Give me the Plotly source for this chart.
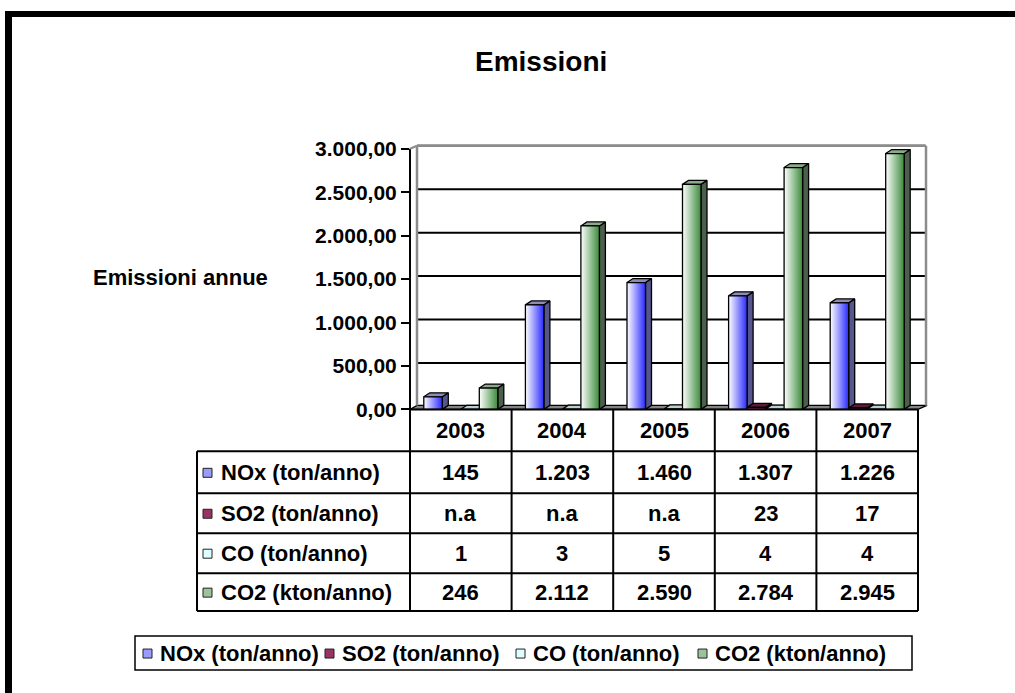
import plotly.graph_objects as go

# ---- data -------------------------------------------------------------
years = ["2003", "2004", "2005", "2006", "2007"]
series_names = ["NOx (ton/anno)", "SO2 (ton/anno)", "CO (ton/anno)", "CO2 (kton/anno)"]
nox = [145, 1203, 1460, 1307, 1226]
so2 = [None, None, None, 23, 17]          # None = n.a
co = [1, 3, 5, 4, 4]
co2 = [246, 2112, 2590, 2784, 2945]
y_ticks = [0, 500, 1000, 1500, 2000, 2500, 3000]
series_values = [nox, so2, co, co2]

# ---- styling ----------------------------------------------------------
FONT = "Liberation Sans, Arial, sans-serif"
styles = [
    dict(grad=["#ffffff", "#2a2aff"], side="#56568c", top="#8c8cb4", key="#9a9aff"),
    dict(grad=["#b04a7a", "#7a1e4e"], side="#4a1230", top="#5e1a3c", key="#993366"),
    dict(grad=["#f4ffff", "#c4ecec"], side="#8aa8a8", top="#b8d0d0", key="#ddffff"),
    dict(grad=["#ffffff", "#3a8a3a"], side="#4c5e4c", top="#8ea88e", key="#9cc49c"),
]

W, H = 1015, 693
H_MAP = 682                              # vertical extent used for the layout grid
X0, CAT, XR = 410, 101.6, 930          # axis start, category width, plot right (px)
Y0, Y3000, YT = 409, 148, 138           # value 0, value 3000, plot top (px)
UPP = 3000 / (Y0 - Y3000)               # data units per pixel

def pxx(x):
    return x / W

def pxy(y):
    return 1 - y / H_MAP

def cat_px(c):
    return X0 + (c + 0.5) * CAT

BAR_W = 18.5 / CAT
DX = 6 / CAT
DY = 4 * UPP

fig = go.Figure()

# ---- 3D style bars ----------------------------------------------------
for i in range(len(years)):
    for j, vals in enumerate(series_values):
        v = vals[i]
        if v is None:
            continue
        st = styles[j]
        xl = i - 2 * BAR_W + j * BAR_W
        xr = xl + BAR_W
        line = dict(color="black", width=1.3)
        # side face
        fig.add_trace(go.Scatter(
            x=[xr, xr + DX, xr + DX, xr, xr], y=[0, DY, v + DY, v, 0],
            fill="toself", fillcolor=st["side"], mode="lines", line=line,
            hoverinfo="skip", showlegend=False))
        # top face
        fig.add_trace(go.Scatter(
            x=[xl, xl + DX, xr + DX, xr, xl], y=[v, v + DY, v + DY, v, v],
            fill="toself", fillcolor=st["top"], mode="lines", line=line,
            hoverinfo="skip", showlegend=False))
        # front face with horizontal shading
        fig.add_trace(go.Scatter(
            x=[xl, xr, xr, xl, xl], y=[0, 0, v, v, 0],
            fill="toself", mode="lines", line=line,
            fillgradient=dict(type="horizontal",
                              colorscale=[[0, st["grad"][0]], [1, st["grad"][1]]]),
            hoverinfo="skip", showlegend=False,
            name=f"{series_names[j]} {years[i]}"))

shapes = []
ann = []

def text(x, y, s, size, xanchor="center", xref="paper"):
    ann.append(dict(x=x, xref=xref, y=pxy(y), yref="paper", text=s, showarrow=False,
                    xanchor=xanchor, yanchor="middle",
                    font=dict(family=FONT, size=size, color="black", weight="bold")))

# ---- walls, floor, gridlines -------------------------------------------
BK = 7  # back wall offset (px)
XE = cat_px(4.5)
shapes.append(dict(type="path", xref="paper", yref="paper",
                   path=f"M {pxx(X0)},{pxy(Y0)} L {pxx(XE)},{pxy(Y0)} "
                        f"L {pxx(XE + 9)},{pxy(Y0 - 4)} L {pxx(X0 + BK)},{pxy(Y0 - 4)} Z",
                   fillcolor="#858585", line=dict(color="black", width=1.2), layer="below"))
for t in y_ticks[1:]:
    shapes.append(dict(type="line", xref="paper", yref="y",
                       x0=pxx(X0 + BK), x1=pxx(XE + 7), y0=t + 3 * UPP, y1=t + 3 * UPP,
                       line=dict(color="black", width=2), layer="below"))
wall_top = pxy(Y3000 - 3)
shapes += [
    dict(type="line", xref="paper", yref="paper", x0=pxx(X0 + BK), x1=pxx(X0 + BK),
         y0=pxy(Y0 - 4), y1=wall_top, line=dict(color="#8c8c8c", width=2.5), layer="below"),
    dict(type="line", xref="paper", yref="paper", x0=pxx(X0 + BK), x1=pxx(XE + 8),
         y0=wall_top, y1=wall_top, line=dict(color="#8c8c8c", width=2.5), layer="below"),
    dict(type="line", xref="paper", yref="paper", x0=pxx(XE + 8), x1=pxx(XE + 8),
         y0=wall_top, y1=pxy(Y0 - 4), line=dict(color="#8c8c8c", width=2.5), layer="below"),
    # front value axis
    dict(type="line", xref="paper", yref="paper", x0=pxx(X0), x1=pxx(X0),
         y0=pxy(Y0), y1=pxy(Y3000), line=dict(color="black", width=2)),
    dict(type="line", xref="paper", yref="paper", x0=pxx(X0), x1=pxx(X0 + BK),
         y0=pxy(Y3000), y1=wall_top, line=dict(color="#8c8c8c", width=2)),
]

# ---- data table --------------------------------------------------------
row_edges = [409, 451, 493, 533, 573, 611]
LBL_X = 197
tl = dict(color="black", width=2)
for ry in row_edges[1:]:
    shapes.append(dict(type="line", xref="paper", yref="paper",
                       x0=pxx(LBL_X), x1=pxx(XE), y0=pxy(ry), y1=pxy(ry), line=tl))
shapes.append(dict(type="line", xref="paper", yref="paper",
                   x0=pxx(X0), x1=pxx(XE), y0=pxy(row_edges[0]), y1=pxy(row_edges[0]), line=tl))
shapes.append(dict(type="line", xref="paper", yref="paper",
                   x0=pxx(LBL_X), x1=pxx(LBL_X), y0=pxy(row_edges[1]), y1=pxy(row_edges[-1]), line=tl))
for c in range(len(years) + 1):
    xc = cat_px(c - 0.5)
    shapes.append(dict(type="line", xref="paper", yref="paper",
                       x0=pxx(xc), x1=pxx(xc), y0=pxy(row_edges[0]), y1=pxy(row_edges[-1]), line=tl))

def fmt(v):
    return "n.a" if v is None else f"{v:,}".replace(",", ".")

for i, yr in enumerate(years):
    text(i, (row_edges[0] + row_edges[1]) / 2, yr, 22, xref="x")
for j, vals in enumerate(series_values):
    yc = (row_edges[j + 1] + row_edges[j + 2]) / 2
    for i, v in enumerate(vals):
        text(i, yc, fmt(v), 22, xref="x")
    # row label with colour key
    shapes.append(dict(type="rect", xref="paper", yref="paper",
                       x0=pxx(203), x1=pxx(212), y0=pxy(yc + 5), y1=pxy(yc - 4),
                       fillcolor=styles[j]["key"], line=dict(color="#222", width=1)))
    text(pxx(219), yc, series_names[j], 22, xanchor="left")

# ---- legend box --------------------------------------------------------
shapes.append(dict(type="rect", xref="paper", yref="paper",
                   x0=pxx(135), x1=pxx(912), y0=pxy(670), y1=pxy(636),
                   line=dict(color="black", width=1.5), fillcolor="white"))
leg_keys = [143, 325, 516, 698]
for j, kx in enumerate(leg_keys):
    shapes.append(dict(type="rect", xref="paper", yref="paper",
                       x0=pxx(kx), x1=pxx(kx + 9), y0=pxy(658), y1=pxy(649),
                       fillcolor=styles[j]["key"], line=dict(color="#222", width=1)))
    text(pxx(kx + 15), 653, series_names[j], 22, xanchor="left")

# ---- outer frame -------------------------------------------------------
shapes += [
    dict(type="rect", xref="paper", yref="paper", x0=pxx(5), x1=pxx(W + 5),
         y0=pxy(16), y1=pxy(10), fillcolor="black", line=dict(width=0)),
    dict(type="rect", xref="paper", yref="paper", x0=pxx(5), x1=pxx(12),
         y0=pxy(H + 10), y1=pxy(10), fillcolor="black", line=dict(width=0)),
]

# ---- titles ------------------------------------------------------------
text(pxx(541), 61, "Emissioni", 28)
text(pxx(180), 277, "Emissioni annue", 22)

fig.update_layout(
    width=W, height=H, autosize=False,
    margin=dict(l=0, r=0, t=0, b=0, pad=0),
    paper_bgcolor="white", plot_bgcolor="rgba(0,0,0,0)",
    separators=",.",
    showlegend=False,
    shapes=shapes, annotations=ann,
    xaxis=dict(domain=[pxx(X0), pxx(XR)], range=[-0.5, -0.5 + (XR - X0) / CAT],
               showgrid=False, zeroline=False, showticklabels=False, ticks="",
               fixedrange=True),
    yaxis=dict(domain=[pxy(Y0), pxy(YT)], range=[0, (Y0 - YT) * UPP],
               tickvals=y_ticks, tickformat=",.2f", ticks="outside", ticklen=8,
               tickwidth=1.5, tickcolor="black", showgrid=False, zeroline=False,
               showline=False, fixedrange=True,
               tickfont=dict(family=FONT, size=21, color="black", weight="bold")),
)

fig.write_html("out.html", config={"responsive": False})
